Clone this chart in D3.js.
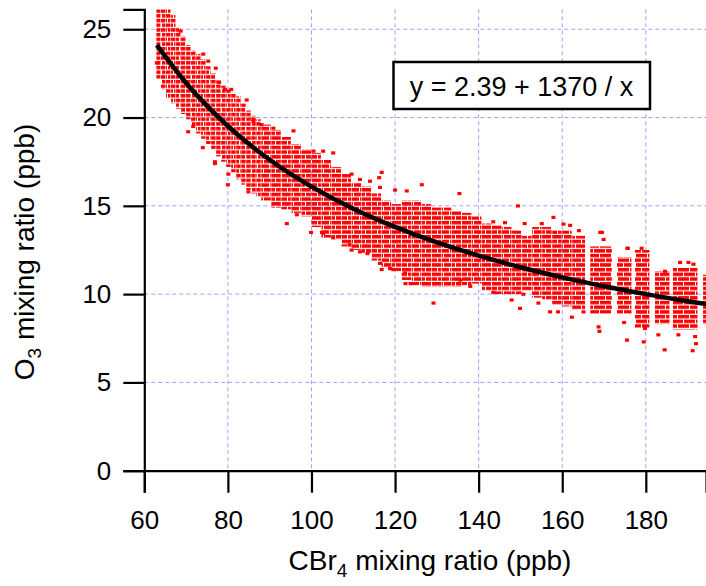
<!DOCTYPE html>
<html>
<head>
<meta charset="utf-8">
<script src="https://cdn.jsdelivr.net/npm/d3@7"></script>
<style>
    body { margin: 0; background: #ffffff; }
    text { font-family: "Liberation Sans", Arial, sans-serif; fill: #000000; }
</style>
</head>
<body>
<svg id="chart" width="706" height="586"></svg>
<script>
"use strict";

// tick values on each axis
const xTicks = [60, 80, 100, 120, 140, 160, 180]
const yTicks = [0, 5, 10, 15, 20, 25]

const clumps = [
    [62.9, 64.0, 22.2, 26.2], [64.0, 65.2, 21.6, 26.2], [65.2, 66.4, 21.1, 26.2],
    [66.4, 67.6, 20.8, 25.8], [67.6, 68.8, 20.5, 25.1], [68.8, 70.0, 20.2, 24.6],
    [70.0, 71.2, 19.9, 24.1], [71.2, 72.4, 19.5, 23.8], [72.4, 73.6, 19.1, 23.6],
    [73.6, 74.8, 18.8, 23.3], [74.8, 76.0, 18.5, 22.9], [76.0, 77.2, 18.2, 22.5],
    [77.2, 78.4, 17.8, 22.1], [78.4, 79.6, 17.5, 21.8], [79.6, 80.8, 17.2, 21.6],
    [80.8, 82.0, 16.9, 21.4], [82.0, 83.2, 16.5, 21.2], [83.2, 84.4, 16.2, 20.8],
    [84.4, 85.6, 15.9, 20.4], [85.6, 86.8, 15.7, 20.1], [86.8, 88.0, 15.5, 19.9],
    [88.0, 90.4, 15.3, 19.6], [90.4, 92.8, 14.9, 19.3], [92.8, 95.2, 14.8, 18.9],
    [95.2, 97.6, 14.6, 18.5], [97.6, 100.0, 14.4, 18.2], [100.0, 102.4, 13.8, 18.0],
    [102.4, 104.8, 13.2, 17.6], [104.8, 107.2, 13.1, 17.2], [107.2, 109.6, 12.7, 16.8],
    [109.6, 112.0, 12.5, 16.3], [112.0, 114.4, 12.3, 16.1], [114.4, 116.8, 11.9, 15.7],
    [116.8, 119.2, 11.5, 15.3], [119.2, 121.6, 11.3, 15.1], [121.6, 124.0, 10.8, 15.3],
    [124.0, 126.4, 10.5, 15.3], [126.4, 128.8, 10.4, 15.1], [128.8, 131.2, 10.4, 14.9],
    [131.2, 133.6, 10.4, 14.9], [133.6, 136.0, 10.4, 14.7], [136.0, 138.4, 10.5, 14.6],
    [138.4, 140.8, 10.6, 14.4], [140.8, 143.2, 10.2, 14.0], [143.2, 145.6, 10.0, 13.9],
    [145.6, 148.0, 10.0, 13.8], [148.0, 150.4, 10.0, 13.6], [150.4, 152.8, 10.2, 13.3],
    [152.8, 155.2, 9.8, 13.8], [155.2, 157.6, 9.7, 13.8], [157.6, 160.0, 9.4, 13.6],
    [160.0, 162.4, 9.3, 13.6], [162.4, 165.6, 9.1, 13.3],
    [166.7, 172.0, 8.9, 12.7], [173.1, 176.7, 8.9, 12.1], [177.4, 181.0, 8.1, 12.5],
    [182.2, 185.8, 8.3, 11.3], [186.5, 192.5, 8.0, 11.5], [193.7, 195.0, 8.3, 11.1]
]

// single stray points on the ragged fringe of the cloud: [x, y]
const strays = [
    [63.0, 23.1], [68.7, 24.9], [70.5, 19.2], [71.7, 19.5], [74.0, 18.3], [74.1, 23.6],
    [75.3, 23.2], [76.9, 17.4], [76.9, 17.5], [77.1, 22.8], [77.9, 22.0], [79.3, 21.6],
    [80.0, 16.2], [80.1, 16.8], [80.8, 21.6], [84.5, 21.0], [84.9, 15.8], [86.1, 19.8],
    [88.1, 19.6], [90.9, 19.4], [94.1, 14.0], [95.7, 19.25], [96.5, 14.5], [99.9, 13.5],
    [100.5, 18.1], [102.5, 13.5], [102.8, 18.1], [102.8, 13.45], [105.2, 18.0], [105.2, 13.2],
    [109.1, 12.8], [109.6, 16.8], [109.6, 12.5], [111.6, 16.5], [111.6, 12.4], [113.4, 12.3],
    [114.0, 16.4], [116.2, 16.6], [116.4, 16.05], [116.4, 11.75], [116.8, 16.9], [116.8, 11.4],
    [118.8, 11.45], [119.6, 11.4], [120.0, 15.9], [122.4, 11.2], [122.5, 10.6], [122.8, 15.85],
    [123.7, 10.6], [126.4, 16.2], [129.2, 9.5], [135.4, 15.7], [135.6, 10.8], [138.0, 10.45],
    [143.5, 10.1], [143.5, 14.1], [146.3, 14.05], [147.9, 9.67], [149.4, 15.0], [149.9, 9.2],
    [150.7, 10.0], [151.0, 14.0], [154.3, 9.5], [155.1, 14.0], [157.1, 9.0], [157.9, 14.35],
    [158.3, 13.5], [159.0, 9.0], [160.3, 13.97], [161.9, 13.9], [162.3, 8.7], [164.0, 13.6],
    [165.1, 9.0], [168.7, 8.15], [168.9, 7.9], [169.1, 13.5], [169.5, 13.5], [169.9, 13.1],
    [174.8, 8.4], [175.5, 7.4], [175.6, 12.6], [175.7, 12.6], [179.0, 12.6], [179.5, 7.3],
    [179.8, 8.06], [183.0, 7.7], [184.5, 6.85], [184.6, 11.3], [187.8, 7.7], [188.2, 11.8],
    [190.2, 11.8], [191.2, 6.8], [191.4, 11.7], [191.8, 7.6], [192.0, 7.2]
]

// fitted curve y = 2.39 + 1370 / x
const fitX = [63.0, 66, 70, 75, 80, 85, 90, 95, 100, 110, 120, 130, 140, 150, 160, 170, 180, 190, 195]
const fitY = [24.1, 23.15, 21.96, 20.66, 19.52, 18.51, 17.61, 16.81, 16.09, 14.84, 13.81, 12.93,
    12.18, 11.52, 10.95, 10.45, 10.0, 9.60, 9.42]

const fitLabel = "y = 2.39 + 1370 / x"

//---------------------------------------------------------------

let svg = d3.select("#chart")
let plotLeft = 144.3, plotRight = 706, plotTop = 9.3, plotBottom = 470.7

let x = d3.scaleLinear()
    .domain([60, 194.4])
    .range([plotLeft, plotRight])
let y = d3.scaleLinear()
    .domain([0, 26.13])
    .range([plotBottom, plotTop])

// Set the stripe pattern and clip region
function addDefs() {
    let defs = svg.append("defs")
    defs.append("clipPath")
        .attr("id", "plot-clip")
        .append("rect")
        .attr("x", plotLeft)
        .attr("y", plotTop)
        .attr("width", plotRight - plotLeft)
        .attr("height", plotBottom - plotTop)

    // short horizontal dashes, like the stacked markers of the original
    let pattern = defs.append("pattern")
        .attr("id", "dash-fill")
        .attr("patternUnits", "userSpaceOnUse")
        .attr("width", 12)
        .attr("height", 9.4)
    pattern.selectAll("rect")
        .data([[0, 0], [6, 4.7], [-6, 4.7]])
        .enter().append("rect")
        .attr("x", function (d) { return d[0] })
        .attr("y", function (d) { return d[1] })
        .attr("width", 11)
        .attr("height", 3.5)
        .attr("fill", "#ff0000")
}

// grid lines at the inner ticks
function addGrid() {
    let grid = svg.append("g").attr("class", "grid")
    grid.selectAll("line.gx")
        .data(xTicks.filter(function (d) { return d > 60 }))
        .enter().append("line")
        .attr("x1", function (d) { return x(d) })
        .attr("x2", function (d) { return x(d) })
        .attr("y1", plotTop)
        .attr("y2", plotBottom)
    grid.selectAll("line.gy")
        .data(yTicks.filter(function (d) { return d > 0 }))
        .enter().append("line")
        .attr("x1", plotLeft)
        .attr("x2", plotRight)
        .attr("y1", function (d) { return y(d) })
        .attr("y2", function (d) { return y(d) })
    grid.selectAll("line")
        .attr("stroke", "#a0a0ff")
        .attr("stroke-width", 1)
        .attr("stroke-dasharray", "4,3")
}

// the red cloud of observations
function addScatter() {
    let cloud = svg.append("g").attr("clip-path", "url(#plot-clip)")
    cloud.selectAll("rect.clump")
        .data(clumps)
        .enter().append("rect")
        .attr("class", "clump")
        .attr("x", function (d) { return x(d[0]) })
        .attr("width", function (d) { return x(d[1]) - x(d[0]) - 0.6 })
        .attr("y", function (d) { return y(d[3]) })
        .attr("height", function (d) { return y(d[2]) - y(d[3]) })
        .attr("fill", "url(#dash-fill)")
    cloud.selectAll("rect.stray")
        .data(strays)
        .enter().append("rect")
        .attr("class", "stray")
        .attr("x", function (d) { return x(d[0]) - 2 })
        .attr("y", function (d) { return y(d[1]) - 1.5 })
        .attr("width", 4)
        .attr("height", 3.2)
        .attr("fill", "#ff0000")
}

// the fitted line on top
function addFit() {
    svg.append("path")
        .datum(fitX.map(function (d, i) { return [d, fitY[i]] }))
        .attr("clip-path", "url(#plot-clip)")
        .attr("fill", "none")
        .attr("stroke", "#000000")
        .attr("stroke-width", 4.5)
        .attr("d", d3.line()
            .x(function (d) { return x(d[0]) })
            .y(function (d) { return y(d[1]) })
            .curve(d3.curveMonotoneX)
        )
}

// add both axes
function addAxes() {
    svg.append("g")
        .attr("transform", "translate(0," + plotBottom + ")")
        .call(d3.axisBottom(x).tickValues(xTicks).tickSizeOuter(0).tickSize(22).tickPadding(18))
    svg.append("g")
        .attr("transform", "translate(" + plotLeft + ",0)")
        .call(d3.axisLeft(y).tickValues(yTicks).tickSizeOuter(0).tickSize(21).tickPadding(12))

    svg.selectAll(".domain, .tick line")
        .attr("stroke", "#000000")
        .attr("stroke-width", 2.2)
    svg.selectAll(".tick text")
        .style("font-family", "'Liberation Sans', Arial, sans-serif")
        .style("font-size", "26px")
        .attr("fill", "#000000")
}

function addTitles() {
    let xTitle = svg.append("text")
        .attr("x", 430)
        .attr("y", 570)
        .attr("text-anchor", "middle")
        .style("font-size", "28px")
    xTitle.append("tspan").text("CBr")
    xTitle.append("tspan").attr("dy", 7).style("font-size", "19px").text("4")
    xTitle.append("tspan").attr("dy", -7).text(" mixing ratio (ppb)")

    let yTitle = svg.append("text")
        .attr("transform", "translate(34,252) rotate(-90)")
        .attr("text-anchor", "middle")
        .style("font-size", "28px")
    yTitle.append("tspan").text("O")
    yTitle.append("tspan").attr("dy", 7).style("font-size", "19px").text("3")
    yTitle.append("tspan").attr("dy", -7).text(" mixing ratio (ppb)")
}

// boxed equation of the fit
function addFitLabel() {
    let box = svg.append("g")
    box.append("rect")
        .attr("x", 393.5)
        .attr("y", 62)
        .attr("width", 256.5)
        .attr("height", 47)
        .attr("fill", "#ffffff")
        .attr("stroke", "#000000")
        .attr("stroke-width", 2.5)
    box.append("text")
        .attr("x", 521.5)
        .attr("y", 96)
        .attr("text-anchor", "middle")
        .style("font-size", "27px")
        .text(fitLabel)
}

addDefs()
addGrid()
addScatter()
addFit()
addAxes()
addTitles()
addFitLabel()
</script>
</body>
</html>
